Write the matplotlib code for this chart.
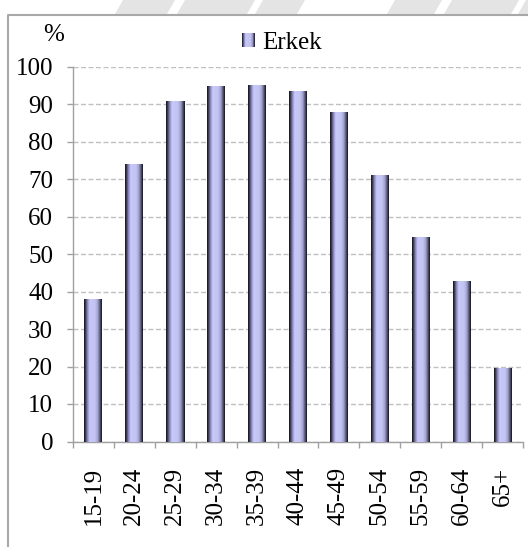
import matplotlib
matplotlib.use("Agg")
import matplotlib.pyplot as plt
import numpy as np
from matplotlib.colors import LinearSegmentedColormap
from matplotlib.legend_handler import HandlerBase
from matplotlib.lines import Line2D
from matplotlib.patches import Patch, Polygon, Rectangle

categories = ["15-19", "20-24", "25-29", "30-34", "35-39", "40-44",
              "45-49", "50-54", "55-59", "60-64", "65+"]
erkek = [37.9, 73.9, 90.7, 94.7, 95.2, 93.5, 88.0, 71.2, 54.5, 42.7, 19.5]
y_ticks = list(range(0, 101, 10))

plt.rcParams["font.family"] = ["Liberation Serif", "DejaVu Serif"]
FS = 18

# cylinder-ish shading across each bar (dark edges, light lavender middle)
stops = [(0.0, "#12121c"), (0.08, "#3c3c54"), (0.2, "#9090c8"),
         (0.32, "#c8c8fa"), (0.62, "#c4c4f2"), (0.78, "#a0a0cc"),
         (0.91, "#4e4e66"), (1.0, "#14141e")]
bar_cmap = LinearSegmentedColormap.from_list("cyl", stops)
grad = np.linspace(0, 1, 64)[np.newaxis, :]


class GradientHandler(HandlerBase):
    def create_artists(self, legend, orig_handle, xdescent, ydescent,
                       width, height, fontsize, trans):
        n = 12
        out = []
        for i in range(n):
            c = bar_cmap((i + 0.5) / n)
            out.append(Rectangle((-xdescent + i * width / n, -ydescent),
                                 width / n + 0.3, height, facecolor=c,
                                 edgecolor="none", transform=trans))
        return out


W, H = 528, 547
fig = plt.figure(figsize=(W / 100, H / 100), dpi=100)
ax = fig.add_axes([73 / W, 1 - 441.5 / H, 450 / W, 375 / H])

x = np.arange(len(categories))
bars = ax.bar(x, erkek, width=0.44, color="none", edgecolor="none", zorder=3)
for b in bars:
    ax.imshow(grad, cmap=bar_cmap, aspect="auto", zorder=3,
              extent=[b.get_x(), b.get_x() + b.get_width(), 0, b.get_height()])

ax.set_xlim(-0.5, len(categories) - 0.5)
ax.set_ylim(0, 100)

ax.set_yticks(y_ticks)
ax.yaxis.grid(True, color="#c0c0c0", linestyle=(0, (3.6, 1.8)), linewidth=1.0)
ax.set_axisbelow(True)

# category boundaries as ticks, labels sit at the centres
ax.set_xticks(np.arange(len(categories) + 1) - 0.5)
ax.set_xticklabels([])
ax.set_xticks(x, minor=True)
ax.set_xticklabels(categories, minor=True, rotation=90, fontsize=FS)
ax.tick_params(axis="x", which="minor", length=0, pad=18)
ax.tick_params(axis="both", which="major", length=4.3, width=1.0,
               color="#a0a0a0", direction="out")
ax.tick_params(axis="y", labelsize=FS, pad=10)

for side in ("top", "right"):
    ax.spines[side].set_visible(False)
for side in ("left", "bottom"):
    ax.spines[side].set_color("#a0a0a0")
    ax.spines[side].set_linewidth(1.0)

fig.text(54 / W, 1 - 35 / H, "%", fontsize=FS, ha="center", va="center")

leg = fig.legend([Patch()], ["Erkek"], handler_map={Patch: GradientHandler()},
                 loc="center", bbox_to_anchor=(282 / W, 1 - 43 / H),
                 frameon=False, fontsize=FS, handlelength=0.5,
                 handleheight=0.5, handletextpad=0.3, borderpad=0)

# outer chart frame and faded watermark strip at the top
fig.add_artist(Line2D([8 / W, 8 / W, 1.0], [0.0, 1 - 15 / H, 1 - 15 / H],
                      transform=fig.transFigure, color="#a8a8a8", linewidth=1.5))
for x0, x1 in [(115, 167), (177, 247), (255, 297), (387, 434), (444, 511), (518, 536)]:
    pts = [(x0 / W, 1 - 14 / H), (x1 / W, 1 - 14 / H),
           ((x1 + 8) / W, 1.0), ((x0 + 8) / W, 1.0)]
    fig.add_artist(Polygon(pts, closed=True, transform=fig.transFigure,
                           facecolor="#e4e4e4", edgecolor="none"))

fig.savefig("out.png", dpi=100)
